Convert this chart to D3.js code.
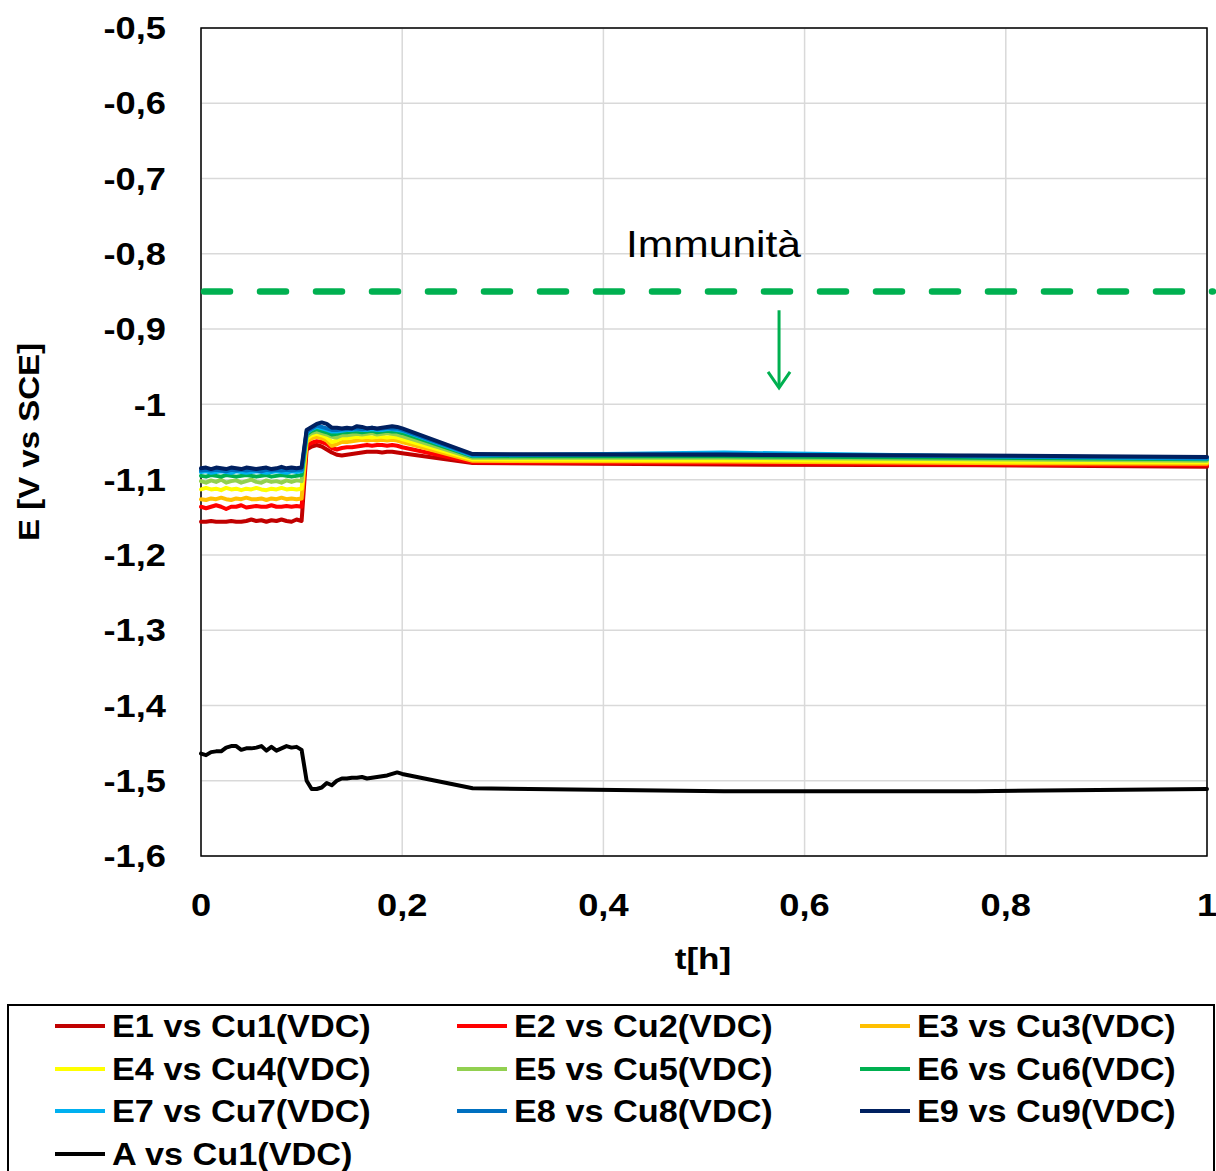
<!DOCTYPE html>
<html>
<head>
<meta charset="utf-8">
<script src="https://cdn.jsdelivr.net/npm/d3@7"></script>
<style>
  html, body { margin: 0; padding: 0; background: #fff; }
  svg { display: block; }
  text { font-family: "Liberation Sans", Arial, sans-serif; }
</style>
</head>
<body>
<svg id="chart" width="1216" height="1171"></svg>
<script>
// ---------- DATA ----------
const times = [0, 0.005, 0.01, 0.015, 0.02, 0.025, 0.03, 0.035, 0.04, 0.045, 0.05,
  0.055, 0.06, 0.065, 0.07, 0.075, 0.08, 0.085, 0.09, 0.095, 0.1,
  0.105, 0.11, 0.115, 0.12, 0.125, 0.13, 0.135, 0.14, 0.145, 0.15,
  0.155, 0.16, 0.165, 0.17, 0.175, 0.18, 0.185, 0.19, 0.195, 0.2,
  0.27, 0.52, 0.77, 1.0];

const e1 = [-1.156,-1.156,-1.155,-1.156,-1.156,-1.156,-1.155,-1.156,-1.156,-1.155,-1.153,-1.155,-1.154,-1.156,-1.154,-1.155,-1.153,-1.155,-1.156,-1.153,-1.155,
  -1.060,-1.056,-1.054,-1.056,-1.060,-1.064,-1.067,-1.068,-1.067,-1.066,-1.065,-1.064,-1.063,-1.063,-1.063,-1.064,-1.063,-1.063,-1.064,-1.065,
  -1.078,-1.080,-1.081,-1.083];
const e2 = [-1.136,-1.138,-1.136,-1.134,-1.136,-1.139,-1.136,-1.136,-1.134,-1.137,-1.136,-1.135,-1.136,-1.136,-1.134,-1.136,-1.136,-1.135,-1.136,-1.135,-1.136,
  -1.055,-1.051,-1.049,-1.050,-1.053,-1.058,-1.060,-1.058,-1.057,-1.057,-1.056,-1.055,-1.054,-1.055,-1.054,-1.054,-1.055,-1.054,-1.055,-1.057,
  -1.077,-1.078,-1.080,-1.081];
const e3 = [-1.126,-1.127,-1.125,-1.126,-1.124,-1.126,-1.127,-1.125,-1.126,-1.124,-1.126,-1.126,-1.125,-1.127,-1.125,-1.126,-1.124,-1.126,-1.125,-1.126,-1.125,
  -1.050,-1.045,-1.043,-1.045,-1.048,-1.055,-1.053,-1.050,-1.050,-1.049,-1.048,-1.047,-1.048,-1.047,-1.048,-1.047,-1.048,-1.047,-1.048,-1.050,
  -1.075,-1.076,-1.078,-1.079];
const e4 = [-1.113,-1.111,-1.113,-1.112,-1.114,-1.111,-1.113,-1.112,-1.114,-1.112,-1.113,-1.111,-1.113,-1.114,-1.112,-1.113,-1.111,-1.113,-1.112,-1.113,-1.112,
  -1.046,-1.041,-1.039,-1.041,-1.044,-1.050,-1.048,-1.045,-1.045,-1.044,-1.043,-1.044,-1.043,-1.044,-1.043,-1.043,-1.044,-1.043,-1.044,-1.046,
  -1.073,-1.074,-1.076,-1.077];
const e5 = [-1.102,-1.104,-1.101,-1.103,-1.100,-1.104,-1.102,-1.101,-1.104,-1.102,-1.100,-1.103,-1.104,-1.101,-1.103,-1.102,-1.104,-1.101,-1.103,-1.101,-1.102,
  -1.043,-1.038,-1.036,-1.038,-1.040,-1.043,-1.044,-1.041,-1.041,-1.040,-1.039,-1.040,-1.039,-1.038,-1.040,-1.039,-1.038,-1.039,-1.040,-1.042,
  -1.071,-1.071,-1.073,-1.075];
const e6 = [-1.095,-1.096,-1.094,-1.095,-1.096,-1.094,-1.095,-1.096,-1.095,-1.094,-1.095,-1.096,-1.095,-1.094,-1.096,-1.095,-1.094,-1.095,-1.096,-1.095,-1.094,
  -1.040,-1.035,-1.033,-1.035,-1.037,-1.040,-1.039,-1.037,-1.037,-1.036,-1.036,-1.037,-1.036,-1.035,-1.037,-1.036,-1.035,-1.036,-1.036,-1.038,
  -1.069,-1.069,-1.071,-1.073];
const e7 = [-1.090,-1.089,-1.091,-1.090,-1.089,-1.090,-1.091,-1.089,-1.090,-1.091,-1.090,-1.089,-1.090,-1.091,-1.090,-1.089,-1.090,-1.091,-1.089,-1.090,-1.089,
  -1.038,-1.033,-1.030,-1.032,-1.034,-1.036,-1.036,-1.035,-1.034,-1.034,-1.033,-1.034,-1.034,-1.033,-1.034,-1.034,-1.033,-1.033,-1.034,-1.035,
  -1.068,-1.064,-1.069,-1.072];
const e8 = [-1.088,-1.087,-1.088,-1.087,-1.088,-1.089,-1.087,-1.088,-1.087,-1.088,-1.087,-1.088,-1.089,-1.087,-1.088,-1.087,-1.088,-1.087,-1.088,-1.087,-1.087,
  -1.036,-1.032,-1.028,-1.030,-1.032,-1.034,-1.034,-1.033,-1.033,-1.032,-1.032,-1.033,-1.032,-1.031,-1.033,-1.032,-1.031,-1.032,-1.032,-1.034,
  -1.067,-1.066,-1.069,-1.071];
const e9 = [-1.085,-1.084,-1.086,-1.084,-1.085,-1.086,-1.084,-1.085,-1.086,-1.084,-1.085,-1.086,-1.085,-1.084,-1.086,-1.085,-1.083,-1.085,-1.084,-1.085,-1.084,
  -1.034,-1.030,-1.026,-1.024,-1.026,-1.031,-1.031,-1.032,-1.031,-1.032,-1.029,-1.030,-1.032,-1.031,-1.032,-1.031,-1.030,-1.029,-1.030,-1.032,
  -1.066,-1.067,-1.068,-1.070];
const aVsCu1 = [-1.464,-1.466,-1.462,-1.461,-1.461,-1.456,-1.454,-1.454,-1.459,-1.457,-1.457,-1.456,-1.454,-1.460,-1.455,-1.460,-1.457,-1.454,-1.456,-1.455,-1.459,
  -1.500,-1.511,-1.511,-1.509,-1.503,-1.506,-1.500,-1.497,-1.497,-1.496,-1.496,-1.495,-1.497,-1.496,-1.495,-1.494,-1.493,-1.491,-1.489,-1.491,
  -1.510,-1.514,-1.514,-1.511];

const seriesNames = ["E1 vs Cu1(VDC)","E2 vs Cu2(VDC)","E3 vs Cu3(VDC)","E4 vs Cu4(VDC)","E5 vs Cu5(VDC)",
  "E6 vs Cu6(VDC)","E7 vs Cu7(VDC)","E8 vs Cu8(VDC)","E9 vs Cu9(VDC)","A vs Cu1(VDC)"];
const seriesValues = [e1, e2, e3, e4, e5, e6, e7, e8, e9, aVsCu1];
const seriesColors = ["#C00000","#FF0000","#FFC000","#FFFF00","#92D050","#00B050","#00B0F0","#0070C0","#002060","#000000"];

const xTicks = [0, 0.2, 0.4, 0.6, 0.8, 1];
const yTicks = [-0.5, -0.6, -0.7, -0.8, -0.9, -1, -1.1, -1.2, -1.3, -1.4, -1.5, -1.6];
const immunityLevel = -0.85;
const immunityLabel = "Immunità";
const immunityLabelPos = [0.4225, -0.804];
const arrowFromTo = [[0.5746, -0.875], [0.5746, -0.978]];
const xTitle = "t[h]";
const yTitle = "E [V vs SCE]";

// ---------- CHART ----------
const svg = d3.select("#chart");
const M = {left: 201, right: 1207, top: 28, bottom: 856};
const x = d3.scaleLinear().domain([0, 1]).range([M.left, M.right]);
const y = d3.scaleLinear().domain([-1.6, -0.5]).range([M.bottom, M.top]);
const fmt = v => String(v).replace(".", ",");

svg.append("rect").attr("width", 1216).attr("height", 1171).attr("fill", "#fff");

// gridlines
svg.append("g").selectAll("line").data(yTicks).join("line")
  .attr("x1", M.left).attr("x2", M.right)
  .attr("y1", d => y(d)).attr("y2", d => y(d))
  .attr("stroke", "#d9d9d9").attr("stroke-width", 1.5);
svg.append("g").selectAll("line").data(xTicks).join("line")
  .attr("y1", M.top).attr("y2", M.bottom)
  .attr("x1", d => x(d)).attr("x2", d => x(d))
  .attr("stroke", "#d9d9d9").attr("stroke-width", 1.5);

// plot border
svg.append("rect").attr("x", M.left).attr("y", M.top)
  .attr("width", M.right - M.left).attr("height", M.bottom - M.top)
  .attr("fill", "none").attr("stroke", "#000").attr("stroke-width", 1.5);

function stretchText(sel, factor) {
  sel.each(function() {
    const len = this.getComputedTextLength();
    d3.select(this).attr("textLength", len * factor).attr("lengthAdjust", "spacingAndGlyphs");
  });
}

// y tick labels
svg.append("g").selectAll("text").data(yTicks).join("text")
  .attr("x", 166).attr("y", d => y(d)).attr("dy", "0.36em")
  .attr("text-anchor", "end").attr("font-size", 31).attr("font-weight", "bold")
  .text(d => fmt(d)).call(stretchText, 1.17);

// x tick labels
svg.append("g").selectAll("text").data(xTicks).join("text")
  .attr("x", d => x(d)).attr("y", 916)
  .attr("text-anchor", "middle").attr("font-size", 31).attr("font-weight", "bold")
  .text(d => fmt(d)).call(stretchText, 1.17);

// axis titles
svg.append("text").attr("x", 703).attr("y", 969).attr("text-anchor", "middle")
  .attr("font-size", 30).attr("font-weight", "bold").text(xTitle).call(stretchText, 1.17);
svg.append("text").attr("transform", "translate(39,442) rotate(-90)").attr("text-anchor", "middle")
  .attr("font-size", 30).attr("font-weight", "bold").text(yTitle).call(stretchText, 1.1);

// series lines
const line = d3.line().x((d, i) => x(times[i])).y(d => y(d));
svg.append("g").selectAll("path").data(seriesValues).join("path")
  .attr("d", d => line(d))
  .attr("fill", "none")
  .attr("stroke", (d, i) => seriesColors[i])
  .attr("stroke-width", 4)
  .attr("stroke-linejoin", "round").attr("stroke-linecap", "round");

// immunity dashed line
svg.append("line")
  .attr("x1", x(0) + 3).attr("x2", x(1) + 6)
  .attr("y1", y(immunityLevel)).attr("y2", y(immunityLevel))
  .attr("stroke", "#00B050").attr("stroke-width", 6.5)
  .attr("stroke-dasharray", "26,30").attr("stroke-linecap", "round");

svg.append("text").attr("x", x(immunityLabelPos[0])).attr("y", y(immunityLabelPos[1]))
  .attr("font-size", 37).attr("fill", "#000").text(immunityLabel).call(stretchText, 1.15);

// arrow
const ax = x(arrowFromTo[0][0]), ay1 = y(arrowFromTo[0][1]), ay2 = y(arrowFromTo[1][1]);
svg.append("line").attr("x1", ax).attr("x2", ax).attr("y1", ay1).attr("y2", ay2 - 1)
  .attr("stroke", "#00B050").attr("stroke-width", 3);
svg.append("path").attr("d", `M${ax - 11},${ay2 - 16} L${ax},${ay2} L${ax + 11},${ay2 - 16}`)
  .attr("fill", "none").attr("stroke", "#00B050").attr("stroke-width", 3)
  .attr("stroke-linejoin", "miter");

// legend
svg.append("rect").attr("x", 8).attr("y", 1005).attr("width", 1206).attr("height", 200)
  .attr("fill", "#fff").attr("stroke", "#000").attr("stroke-width", 2);
const colX = [55, 457, 860];
const rowY = [1026, 1069, 1111, 1154];
const lg = svg.append("g").selectAll("g").data(seriesNames).join("g")
  .attr("transform", (d, i) => `translate(${colX[i % 3]},${rowY[Math.floor(i / 3)]})`);
lg.append("line").attr("x1", 0).attr("x2", 50).attr("y1", 0).attr("y2", 0)
  .attr("stroke", (d, i) => seriesColors[i]).attr("stroke-width", 4);
lg.append("text").attr("x", 57).attr("y", 11).attr("font-size", 32).attr("font-weight", "bold")
  .text(d => d).call(stretchText, 1.07);
</script>
</body>
</html>
